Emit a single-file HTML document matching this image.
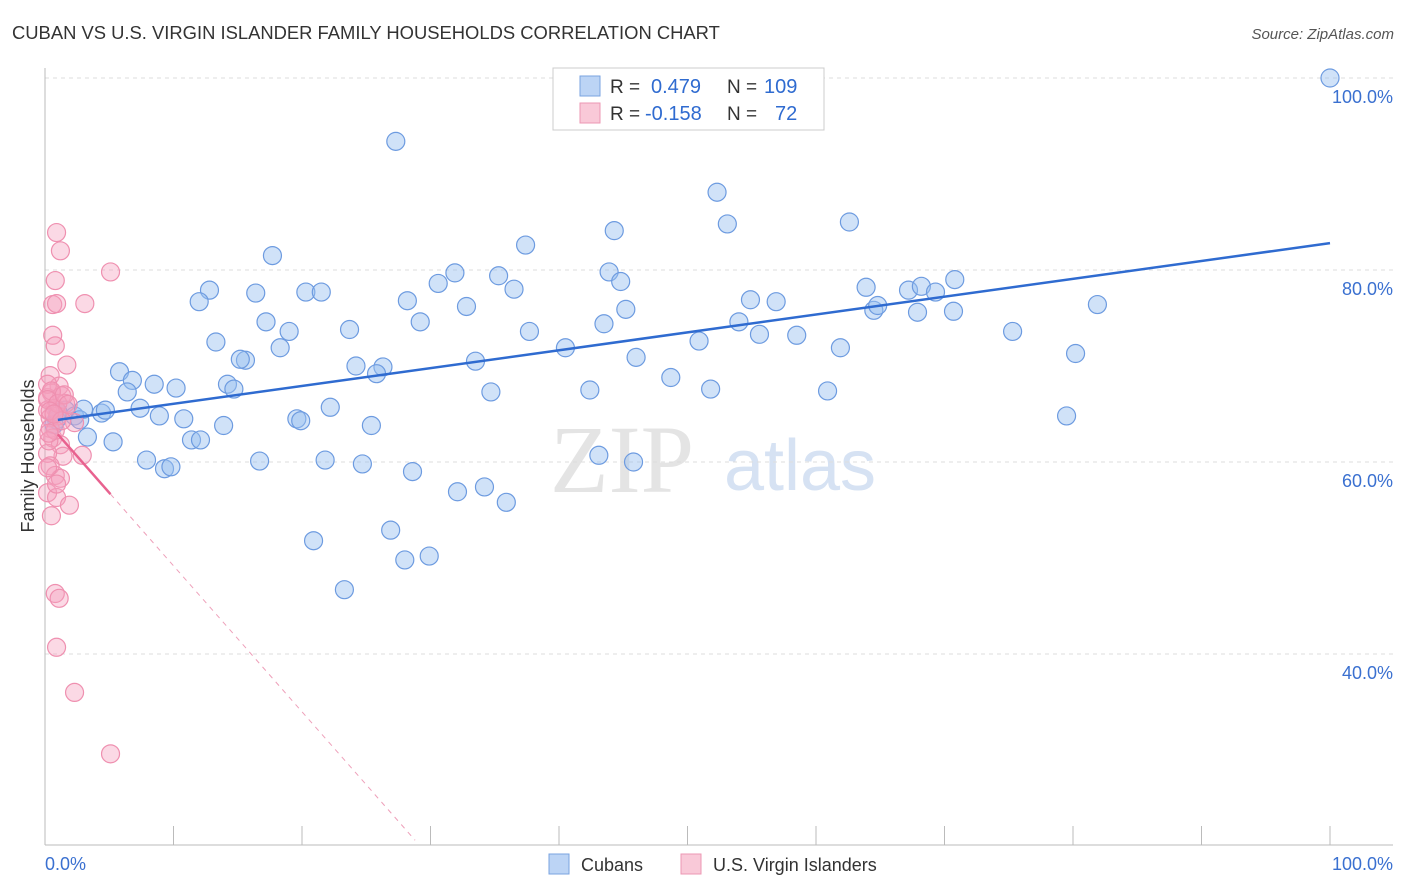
<!DOCTYPE html>
<html><head><meta charset="utf-8"><style>
body{margin:0;background:#fff;font-family:"Liberation Sans",sans-serif}
svg{display:block}
</style></head><body>
<svg id="c" width="1406" height="892">
<text x="12" y="39" font-size="18.4" fill="#333">CUBAN VS U.S. VIRGIN ISLANDER FAMILY HOUSEHOLDS CORRELATION CHART</text>
<text x="1394" y="39" font-size="15" fill="#555" text-anchor="end" font-style="italic">Source: ZipAtlas.com</text>
<text x="622" y="492" font-size="96" fill="#e4e4e4" font-family="Liberation Serif,serif" text-anchor="middle">ZIP</text>
<text x="800" y="490" font-size="72" fill="#d6e2f3" text-anchor="middle">atlas</text>
<g id="grid"></g><g id="pts"></g><g id="lines"></g>
<text transform="translate(34,456) rotate(-90)" font-size="18" fill="#333" text-anchor="middle">Family Households</text>
<text x="45" y="870" font-size="18" fill="#3a70d0">0.0%</text>
<text x="1393" y="870" font-size="18" fill="#3a70d0" text-anchor="end">100.0%</text>
<g>
<rect x="553" y="68" width="271" height="62" fill="#fff" stroke="#ccc"/>
<rect x="580" y="76" width="20" height="20" fill="#bcd4f5" stroke="#7aa3e0"/>
<rect x="580" y="103" width="20" height="20" fill="#f9c9d8" stroke="#ec97b3"/>
<text x="610" y="93" font-size="19" fill="#333">R =</text>
<text x="651" y="93" font-size="20" fill="#2f6bd0">0.479</text>
<text x="727" y="93" font-size="19" fill="#333">N =</text>
<text x="764" y="93" font-size="20" fill="#2f6bd0">109</text>
<text x="610" y="120" font-size="19" fill="#333">R =</text>
<text x="645" y="120" font-size="20" fill="#2f6bd0">-0.158</text>
<text x="727" y="120" font-size="19" fill="#333">N =</text>
<text x="775" y="120" font-size="20" fill="#2f6bd0">72</text>
</g>
<g>
<rect x="549" y="854" width="20" height="20" fill="#bcd4f5" stroke="#7aa3e0"/>
<text x="581" y="871" font-size="18" fill="#333">Cubans</text>
<rect x="681" y="854" width="20" height="20" fill="#f9c9d8" stroke="#ec97b3"/>
<text x="713" y="871" font-size="18" fill="#333">U.S. Virgin Islanders</text>
</g>
</svg>
<script>
const yTicks=[40,60,80,100];
const yTickLabels=["40.0%","60.0%","80.0%","100.0%"];
const xTicks=[0,10,20,30,40,50,60,70,80,90,100];
const cubanX=[100,27.3,52.3,62.6,53.1,44.3,37.4,17.7,31.9,35.3,43.9,44.8,30.6,36.5,12.8,16.4,20.3,21.5,12,28.2,32.8,45.2,29.2,17.2,19,23.7,37.7,43.5,54.9,56.9,54,55.6,58.5,50.9,13.3,18.3,40.5,61.9,63.9,67.2,68.2,69.3,70.8,64.5,64.8,67.9,70.7,75.3,81.9,80.2,79.5,46,33.5,24.2,26.3,25.8,15.6,15.2,5.8,6.8,8.5,6.4,10.2,14.2,14.7,34.7,42.4,48.7,51.8,60.9,1.6,4.4,4.7,7.4,8.9,10.8,2.3,0.9,0.7,2.7,3.3,5.3,11.4,12.1,13.9,19.6,19.9,22.2,25.4,7.9,9.3,9.8,16.7,21.8,24.7,28.6,43.1,45.8,32.1,34.2,35.9,26.9,20.9,28,29.9,23.3,3,1];
const cubanY=[100,93.4,88.1,85,84.8,84.1,82.6,81.5,79.7,79.4,79.8,78.8,78.6,78,77.9,77.6,77.7,77.7,76.7,76.8,76.2,75.9,74.6,74.6,73.6,73.8,73.6,74.4,76.9,76.7,74.6,73.3,73.2,72.6,72.5,71.9,71.9,71.9,78.2,77.9,78.3,77.7,79,75.8,76.3,75.6,75.7,73.6,76.4,71.3,64.8,70.9,70.5,70,69.9,69.2,70.6,70.7,69.4,68.5,68.1,67.3,67.7,68.1,67.6,67.3,67.5,68.8,67.6,67.4,65.4,65.1,65.4,65.6,64.8,64.5,64.8,64.4,63.9,64.4,62.6,62.1,62.3,62.3,63.8,64.5,64.3,65.7,63.8,60.2,59.3,59.5,60.1,60.2,59.8,59,60.7,60,56.9,57.4,55.8,52.9,51.8,49.8,50.2,46.7,65.5,65.2];
const viX=[0.9,1.2,0.8,5.1,0.6,0.9,3.1,0.6,0.8,1.7,0.4,1.1,0.5,0.2,1.3,1.6,0.8,0.2,0.4,1,2.3,0.4,0.6,1.2,1.4,0.2,2.9,0.4,0.8,1.2,0.2,0.9,1.9,0.5,0.8,1.1,0.9,2.3,5.1,0.2,0.5,0.2,1,0.4,0.8,1.3,0.3,0.2,0.9,1.5,1.8,0.7,0.3];
const viY=[83.9,82,78.9,79.8,76.4,76.5,76.5,73.2,72.1,70.1,69,67.9,67.2,66.7,66.9,66.1,65.6,65.4,64.6,64.8,64.1,63.5,62.5,61.8,60.6,60.9,60.7,59.6,58.6,58.3,56.8,56.3,55.5,54.4,46.3,45.8,40.7,36,29.6,68.1,67.4,66.5,66.1,65.3,63.3,64.3,62.2,59.4,57.7,67,66,65,63];
const cubanFit=[64.2,82.8];
const viFit=[64.4,20.6],viFitEndX=28.8;
const X=v=>45+v*12.85, Y=v=>78+(100-v)*9.6;
const NS='http://www.w3.org/2000/svg';
function mk(p,tag,a){const e=document.createElementNS(NS,tag);for(const k in a)e.setAttribute(k,a[k]);p.appendChild(e);return e;}
const g=document.getElementById('grid'),P=document.getElementById('pts'),L=document.getElementById('lines');
yTicks.forEach((t,i)=>{
 const l=mk(g,'line',{x1:45,x2:1393,y1:Y(t),y2:Y(t),stroke:'#ddd','stroke-dasharray':'4 4'});
 
 
 const tx=mk(g,'text',{x:1393,y:Y(t)+25,'font-size':18,fill:'#3a70d0','text-anchor':'end'});tx.textContent=yTickLabels[i];
 
 
});
const ax=mk(g,'line',{x1:45,x2:45,y1:68,y2:845,stroke:'#bbb'});


const bx=mk(g,'line',{x1:45,x2:1393,y1:845,y2:845,stroke:'#bbb'});


xTicks.forEach(t=>{const l=mk(g,'line',{x1:X(t),x2:X(t),y1:826,y2:845,stroke:'#bbb'});
 
 });
cubanX.forEach((v,i)=>{const c=mk(P,'circle',{cx:X(v),cy:Y(cubanY[i]),r:9,fill:'rgba(150,190,240,0.45)',stroke:'#6d9be0','stroke-width':1.2});
 
 });
viX.forEach((v,i)=>{const c=mk(P,'circle',{cx:X(v),cy:Y(viY[i]),r:9,fill:'rgba(245,160,190,0.4)',stroke:'#ef90b0','stroke-width':1.2});
 
 });
const cl=mk(L,'line',{x1:X(1),y1:Y(cubanFit[0]+(cubanFit[1]-cubanFit[0])*0.01),x2:X(100),y2:Y(cubanFit[1]),stroke:'#2f6bd0','stroke-width':2.5});


const vy=x=>viFit[0]+(viFit[1]-viFit[0])*x/viFitEndX;
const v1=mk(L,'line',{x1:X(1),y1:Y(vy(1)),x2:X(5.1),y2:Y(vy(5.1)),stroke:'#e8628f','stroke-width':2.5});


const v2=mk(L,'line',{x1:X(5.1),y1:Y(vy(5.1)),x2:X(viFitEndX),y2:Y(viFit[1]),stroke:'#eea0ba','stroke-width':1,'stroke-dasharray':'5 5'});


</script>
</body></html>
